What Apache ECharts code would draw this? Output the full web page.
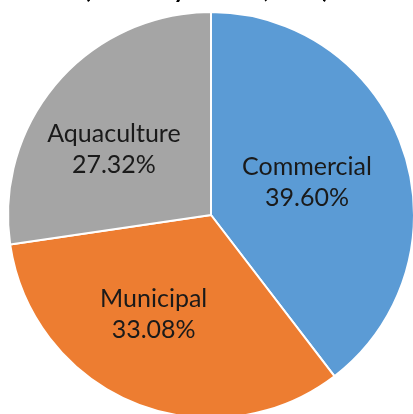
<!DOCTYPE html>
<html>
<head>
<meta charset="utf-8">
<script src="https://cdn.jsdelivr.net/npm/echarts@6/dist/echarts.min.js"></script>
<style>
html,body{margin:0;padding:0;background:#fff;}
#c{width:413px;height:414px;}
</style>
</head>
<body>
<div id="c"></div>
<script>
const titleText = "(Share by Sector, in %)";
const categories = ["Commercial", "Municipal", "Aquaculture"];
const values = [39.60, 33.08, 27.32];
const colors = ["#5B9BD5", "#ED7D31", "#A5A5A5"];
const labelOffsets = [[-3, 1], [-18, 3], [-18, 3]];

const chart = echarts.init(document.getElementById('c'));
chart.setOption({
  animation: false,
  title: {
    text: titleText,
    left: 'center',
    top: -28,
    textStyle: {fontFamily: 'Lato', fontWeight: 'bold', fontSize: 25, color: '#000'}
  },
  series: [{
    type: 'pie',
    center: [211, 215],
    radius: [0, 203],
    startAngle: 90,
    clockwise: true,
    silent: true,
    itemStyle: {borderColor: '#fff', borderWidth: 2},
    label: {
      show: true,
      position: 'inside',
      fontFamily: 'Lato',
      fontSize: 25,
      lineHeight: 31,
      color: '#1a1a1a',
      formatter: p => p.name + '\n' + p.value.toFixed(2) + '%'
    },
    labelLine: {show: false},
    data: categories.map((n, i) => ({
      name: n,
      value: values[i],
      itemStyle: {color: colors[i]},
      label: {offset: labelOffsets[i]}
    }))
  }]
});
</script>
</body>
</html>
